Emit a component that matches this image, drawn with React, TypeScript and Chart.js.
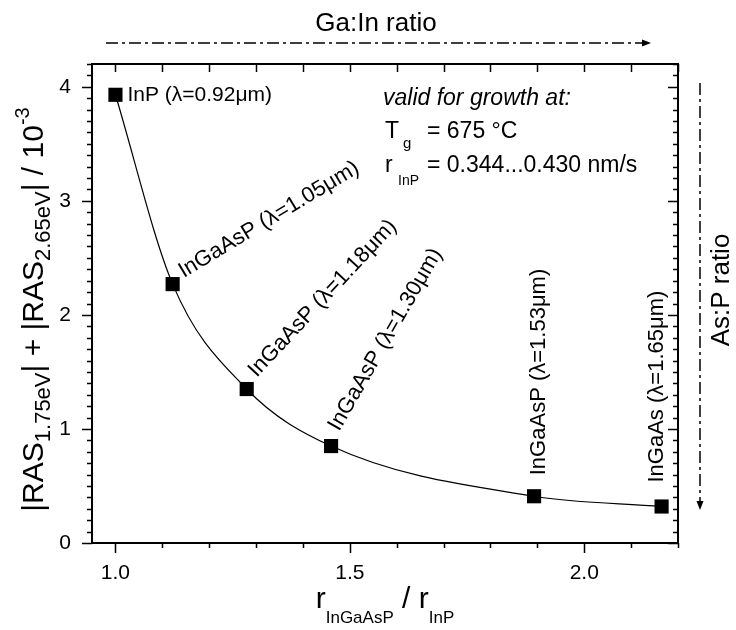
import React, { useEffect, useRef } from "react";
import { Chart, registerables } from "chart.js";

Chart.register(...registerables);

// ---------- data ----------
const growthRateRatio = [1.0, 1.122, 1.28, 1.46, 1.893, 2.165];
const rasSum = [3.93, 2.27, 1.35, 0.85, 0.41, 0.32];
const materials = ["InP", "InGaAsP", "InGaAsP", "InGaAsP", "InGaAsP", "InGaAs"];
const wavelengths = ["0.92", "1.05", "1.18", "1.30", "1.53", "1.65"];
const xMajorTicks = [1.0, 1.5, 2.0];
const yMajorTicks = [0, 1, 2, 3, 4];
const xRange = [0.95, 2.2];
const yRange = [0, 4.2];

// ---------- styles / layout ----------
const FONT = "'Liberation Sans', Arial, Helvetica, sans-serif";
const labelLayout = [
  { dx: 12, dy: 0, angle: 0, baseline: "middle", size: 21 },
  { dx: 11, dy: -6, angle: -31, baseline: "alphabetic", size: 22 },
  { dx: 10, dy: -11, angle: -47, baseline: "alphabetic", size: 22 },
  { dx: 8, dy: -14, angle: -60, baseline: "alphabetic", size: 22 },
  { dx: 11, dy: -21, angle: -90, baseline: "alphabetic", size: 22 },
  { dx: 1, dy: -24, angle: -90, baseline: "alphabetic", size: 22 },
];

type Part = { t: string; size: number; dy?: number; italic?: boolean };

function fontOf(p: Part) {
  return `${p.italic ? "italic " : ""}${p.size}px ${FONT}`;
}
function partsWidth(ctx: CanvasRenderingContext2D, parts: Part[]) {
  let w = 0;
  for (const p of parts) {
    ctx.font = fontOf(p);
    w += ctx.measureText(p.t).width;
  }
  return w;
}
function drawParts(ctx: CanvasRenderingContext2D, parts: Part[], x: number, y: number) {
  let cx = x;
  for (const p of parts) {
    ctx.font = fontOf(p);
    ctx.fillText(p.t, cx, y + (p.dy || 0));
    cx += ctx.measureText(p.t).width;
  }
}

const yTitle: Part[] = [
  { t: "|RAS", size: 30 },
  { t: "1.75eV", size: 22, dy: 7 },
  { t: "| + |RAS", size: 30 },
  { t: "2.65eV", size: 22, dy: 7 },
  { t: "| / 10", size: 30 },
  { t: "-3", size: 20, dy: -14 },
];
const xTitle: Part[] = [
  { t: "r", size: 30 },
  { t: "InGaAsP", size: 17, dy: 15 },
  { t: " / r", size: 30 },
  { t: "InP", size: 17, dy: 15 },
];

const decorPlugin = {
  id: "decor",
  afterDraw(chart: any) {
    const { ctx, chartArea: a, scales } = chart;
    const xs = scales.x;
    const ys = scales.y;
    ctx.save();
    ctx.strokeStyle = "#000";
    ctx.fillStyle = "#000";

    // frame top / right
    ctx.lineWidth = 2;
    ctx.beginPath();
    ctx.moveTo(a.left - 1, a.top);
    ctx.lineTo(a.right, a.top);
    ctx.lineTo(a.right, a.bottom + 1);
    ctx.stroke();

    // ticks
    ctx.lineWidth = 1.5;
    ctx.beginPath();
    for (let k = 10; k <= 22; k++) {
      const x = Math.round(xs.getPixelForValue(k / 10)) + 0.5;
      const major = k % 5 === 0;
      ctx.moveTo(x, a.bottom);
      ctx.lineTo(x, a.bottom + (major ? 10 : 5));
      ctx.moveTo(x, a.top);
      ctx.lineTo(x, a.top + 8);
    }
    for (let k = 0; k <= 42; k++) {
      const y = Math.round(ys.getPixelForValue(k / 10)) + 0.5;
      const major = k % 10 === 0;
      ctx.moveTo(a.left, y);
      ctx.lineTo(a.left - (major ? 10 : 5), y);
      ctx.moveTo(a.right, y);
      ctx.lineTo(a.right - (major ? 10 : 5), y);
    }
    ctx.stroke();

    // axis titles
    ctx.textAlign = "left";
    ctx.textBaseline = "alphabetic";
    const yw = partsWidth(ctx, yTitle);
    ctx.save();
    ctx.translate(43, (a.top + a.bottom) / 2 + 6);
    ctx.rotate(-Math.PI / 2);
    drawParts(ctx, yTitle, -yw / 2, 0);
    ctx.restore();

    const xw = partsWidth(ctx, xTitle);
    drawParts(ctx, xTitle, (a.left + a.right) / 2 - xw / 2, 608);

    // point labels
    for (let i = 0; i < growthRateRatio.length; i++) {
      const L = labelLayout[i];
      const px = xs.getPixelForValue(growthRateRatio[i]);
      const py = ys.getPixelForValue(rasSum[i]);
      ctx.save();
      ctx.translate(px + L.dx, py + L.dy);
      ctx.rotate((L.angle * Math.PI) / 180);
      ctx.font = `${L.size}px ${FONT}`;
      ctx.textBaseline = L.baseline;
      ctx.textAlign = "left";
      ctx.fillText(`${materials[i]} (\u03BB=${wavelengths[i]}\u03BCm)`, 0, 0);
      ctx.restore();
    }

    // info block
    const bx = a.left + 291;
    ctx.textBaseline = "alphabetic";
    ctx.font = `italic 23px ${FONT}`;
    ctx.fillText("valid for growth at:", bx, 105);
    drawParts(ctx, [{ t: "T", size: 23 }], bx + 2, 138);
    drawParts(ctx, [{ t: "g", size: 15 }], bx + 20, 148);
    drawParts(ctx, [{ t: "= 675 \u00B0C", size: 23 }], bx + 44, 138);
    drawParts(ctx, [{ t: "r", size: 23 }], bx + 2, 172);
    drawParts(ctx, [{ t: "InP", size: 14 }], bx + 15, 185);
    drawParts(ctx, [{ t: "= 0.344...0.430 nm/s", size: 23 }], bx + 44, 172);

    // top annotation + arrow
    ctx.font = `26px ${FONT}`;
    ctx.textAlign = "center";
    ctx.textBaseline = "middle";
    ctx.fillText("Ga:In ratio", 376, 24);

    ctx.lineWidth = 1.5;
    ctx.setLineDash([12, 4, 3, 4]);
    const ty = a.top - 21;
    const tx0 = a.left + 14;
    const tx1 = a.right - 27;
    ctx.beginPath();
    ctx.moveTo(tx0, ty);
    ctx.lineTo(tx1 - 6, ty);
    ctx.stroke();
    const rx = a.right + 22;
    const ry0 = a.top + 19;
    const ry1 = a.bottom - 33;
    ctx.beginPath();
    ctx.moveTo(rx, ry0);
    ctx.lineTo(rx, ry1 - 6);
    ctx.stroke();
    ctx.setLineDash([]);
    ctx.beginPath();
    ctx.moveTo(tx1, ty);
    ctx.lineTo(tx1 - 9, ty - 3.5);
    ctx.lineTo(tx1 - 9, ty + 3.5);
    ctx.closePath();
    ctx.fill();
    ctx.beginPath();
    ctx.moveTo(rx, ry1);
    ctx.lineTo(rx - 3.5, ry1 - 9);
    ctx.lineTo(rx + 3.5, ry1 - 9);
    ctx.closePath();
    ctx.fill();

    // right annotation
    ctx.save();
    ctx.translate(722, 290);
    ctx.rotate(-Math.PI / 2);
    ctx.font = `26px ${FONT}`;
    ctx.textAlign = "center";
    ctx.textBaseline = "middle";
    ctx.fillText("As:P ratio", 0, 0);
    ctx.restore();

    ctx.restore();
  },
};

export default function App() {
  const ref = useRef<HTMLCanvasElement | null>(null);
  useEffect(() => {
    if (!ref.current) return;
    const chart = new Chart(ref.current, {
      type: "line",
      data: {
        datasets: [
          {
            data: growthRateRatio.map((x, i) => ({ x, y: rasSum[i] })),
            borderColor: "#000",
            borderWidth: 1.2,
            cubicInterpolationMode: "monotone",
            pointStyle: "rect",
            pointRadius: 10,
            pointHoverRadius: 10,
            pointBackgroundColor: "#000",
            pointBorderColor: "#000",
            pointBorderWidth: 0,
            fill: false,
          },
        ],
      },
      options: {
        animation: false,
        responsive: false,
        devicePixelRatio: 1,
        events: [],
        layout: { padding: { top: 64, right: 58, left: 0, bottom: 0 } },
        plugins: { legend: { display: false }, tooltip: { enabled: false }, title: { display: false } },
        scales: {
          x: {
            type: "linear",
            position: "bottom",
            min: xRange[0],
            max: xRange[1],
            afterBuildTicks: (axis: any) => {
              axis.ticks = xMajorTicks.map((v) => ({ value: v }));
            },
            afterFit: (s: any) => {
              s.height = 87;
            },
            ticks: {
              color: "#000",
              font: { family: FONT, size: 21 },
              padding: 10,
              maxRotation: 0,
              callback: (v: any) => Number(v).toFixed(1),
            },
            grid: { display: false },
            border: { display: true, color: "#000", width: 2 },
          },
          y: {
            type: "linear",
            min: yRange[0],
            max: yRange[1],
            afterBuildTicks: (axis: any) => {
              axis.ticks = yMajorTicks.map((v) => ({ value: v }));
            },
            afterFit: (s: any) => {
              s.width = 92;
            },
            ticks: {
              color: "#000",
              font: { family: FONT, size: 21 },
              padding: 13,
              callback: (v: any) => String(v),
            },
            grid: { display: false },
            border: { display: true, color: "#000", width: 2 },
          },
        },
      },
      plugins: [decorPlugin],
    });
    return () => chart.destroy();
  }, []);
  return (
    <div style={{ position: "absolute", left: 0, top: 0, width: 736, height: 630, background: "#fff" }}>
      <canvas ref={ref} width={736} height={630} style={{ width: 736, height: 630, display: "block" }} />
    </div>
  );
}
